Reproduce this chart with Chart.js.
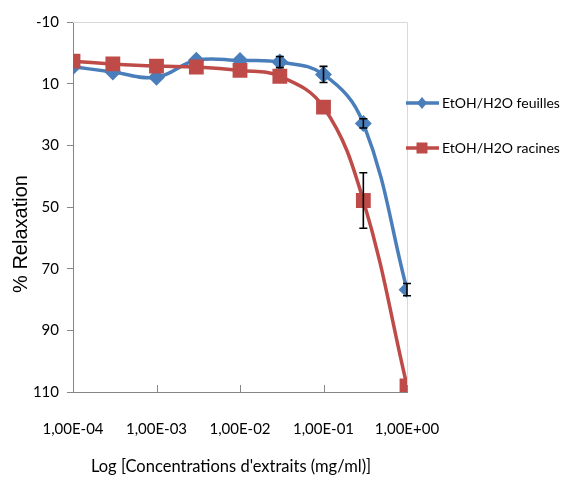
<!DOCTYPE html>
<html><head><meta charset="utf-8">
<script src="https://cdn.jsdelivr.net/npm/chart.js@4/dist/chart.umd.min.js"></script>
<style>html,body{margin:0;padding:0;background:#fff;} #wrap{width:564px;height:480px;position:relative;}</style>
</head><body><div id="wrap"><canvas id="c"></canvas></div>
<script>
const concentrations = [1e-4, 3e-4, 1e-3, 3e-3, 1e-2, 3e-2, 1e-1, 3e-1, 1];
const feuilles = [4.5, 6.2, 7.9, 2.4, 2.5, 3.0, 7.0, 22.9, 76.8];
const feuillesErr = [0, 0, 0, 0, 0, 1.8, 2.6, 1.5, 2.0];
const racines = [2.7, 3.6, 4.3, 4.6, 5.7, 7.6, 17.6, 47.9, 108];
const racinesErr = [0, 0, 0, 0, 0, 0, 0, 9, 0];
const xTickValues = [1e-4, 1e-3, 1e-2, 1e-1, 1];
const xTickLabels = ['1,00E-04', '1,00E-03', '1,00E-02', '1,00E-01', '1,00E+00'];
const yTickValues = [-10, 10, 30, 50, 70, 90, 110];
const seriesNames = ['EtOH/H2O feuilles', 'EtOH/H2O racines'];
const seriesColors = ['#4A7EBB', '#BE4B48'];
const xTitle = "Log [Concentrations d'extraits (mg/ml)]";
const yTitle = '% Relaxation';

const FONT = 'Lato, "Open Sans", sans-serif';
const errs = [feuillesErr, racinesErr];

const extrasPlugin = {
  id: 'extras',
  beforeDatasetsDraw(chart) {
    const {ctx, chartArea: a, scales: {x}} = chart;
    ctx.save();
    ctx.strokeStyle = '#D9D9D9'; ctx.lineWidth = 1;
    ctx.beginPath();
    ctx.moveTo(a.left, a.top + 0.5); ctx.lineTo(a.right + 0.5, a.top + 0.5); ctx.lineTo(a.right + 0.5, a.bottom);
    ctx.stroke();
    ctx.strokeStyle = '#868686';
    xTickValues.forEach(v => {
      const px = Math.round(x.getPixelForValue(v)) + 0.5;
      ctx.beginPath(); ctx.moveTo(px, a.bottom); ctx.lineTo(px, a.bottom - 7); ctx.stroke();
    });
    ctx.restore();
  },
  afterDatasetsDraw(chart) {
    const {ctx, scales: {x, y}} = chart;
    ctx.save();
    ctx.strokeStyle = '#000'; ctx.lineWidth = 1.6;
    chart.data.datasets.forEach((ds, di) => {
      errs[di].forEach((e, i) => {
        if (!e) return;
        const px = x.getPixelForValue(concentrations[i]);
        const y1 = y.getPixelForValue(ds.data[i].y - e);
        const y2 = y.getPixelForValue(ds.data[i].y + e);
        ctx.beginPath();
        ctx.moveTo(px, y1); ctx.lineTo(px, y2);
        ctx.moveTo(px - 4, y1); ctx.lineTo(px + 4, y1);
        ctx.moveTo(px - 4, y2); ctx.lineTo(px + 4, y2);
        ctx.stroke();
      });
    });
    ctx.restore();
  },
  afterDraw(chart) {
    const {ctx, chartArea: a} = chart;
    ctx.save();
    // legend
    const ys = [103, 148];
    chart.data.datasets.forEach((ds, i) => {
      const yy = ys[i];
      ctx.strokeStyle = ds.borderColor; ctx.lineWidth = 3.5;
      ctx.beginPath(); ctx.moveTo(a.right - 1, yy); ctx.lineTo(a.right + 32, yy); ctx.stroke();
      ctx.fillStyle = ds.backgroundColor;
      const cx = a.right + 15;
      ctx.beginPath();
      if (ds.pointStyle === 'rect') {
        ctx.rect(cx - 5.5, yy - 5.5, 11, 11);
      } else {
        ctx.moveTo(cx, yy - 6); ctx.lineTo(cx + 5, yy); ctx.lineTo(cx, yy + 6); ctx.lineTo(cx - 5, yy); ctx.closePath();
      }
      ctx.fill();
      ctx.fillStyle = '#000';
      ctx.font = '14px ' + FONT;
      ctx.textBaseline = 'middle';
      ctx.textAlign = 'left';
      ctx.fillText(ds.label, a.right + 35, yy);
    });
    // axis titles
    ctx.fillStyle = '#000';
    ctx.textAlign = 'center';
    ctx.textBaseline = 'middle';
    ctx.font = '16.5px ' + FONT;
    ctx.fillText(xTitle, 231, 467);
    ctx.translate(21, 234);
    ctx.rotate(-Math.PI / 2);
    ctx.font = '20px "Liberation Sans", Arial, sans-serif';
    ctx.fillText(yTitle, 0, 0);
    ctx.restore();
  }
};

new Chart(document.getElementById('c'), {
  type: 'line',
  data: {
    datasets: [
      {
        label: seriesNames[0],
        data: concentrations.map((c, i) => ({x: c, y: feuilles[i]})),
        borderColor: seriesColors[0], backgroundColor: seriesColors[0],
        borderWidth: 3.5, tension: 0.4, pointStyle: 'rectRot', pointRadius: 6, pointHoverRadius: 6,
        order: 2
      },
      {
        label: seriesNames[1],
        data: concentrations.map((c, i) => ({x: c, y: racines[i]})),
        borderColor: seriesColors[1], backgroundColor: seriesColors[1],
        borderWidth: 3.5, tension: 0.4, pointStyle: 'rect', pointRadius: 8, pointHoverRadius: 8,
        order: 1
      }
    ]
  },
  options: {
    responsive: true, maintainAspectRatio: false, animation: false,
    layout: {padding: {top: 22, right: 157, left: 0, bottom: 0}},
    plugins: {legend: {display: false}, tooltip: {enabled: false}},
    scales: {
      x: {
        type: 'logarithmic', min: 1e-4, max: 1,
        afterBuildTicks: s => { s.ticks = xTickValues.map(v => ({value: v})); },
        afterFit: s => { s.height = 88; },
        ticks: {
          autoSkip: false, maxRotation: 0, padding: 20, color: '#000',
          font: {family: FONT, size: 15},
          callback: (v, i) => xTickLabels[i]
        },
        grid: {display: false},
        border: {display: true, color: '#868686', width: 1},
        title: {display: false}
      },
      y: {
        reverse: true, min: -10, max: 110,
        afterBuildTicks: s => { s.ticks = yTickValues.map(v => ({value: v})); },
        afterFit: s => { s.width = 73; },
        ticks: {color: '#000', font: {family: FONT, size: 15}, padding: 8},
        grid: {display: true, drawOnChartArea: false, drawTicks: true, tickLength: 6, color: '#868686'},
        border: {display: true, color: '#868686', width: 1},
        title: {display: false}
      }
    }
  },
  plugins: [extrasPlugin]
});
</script>
</body></html>
